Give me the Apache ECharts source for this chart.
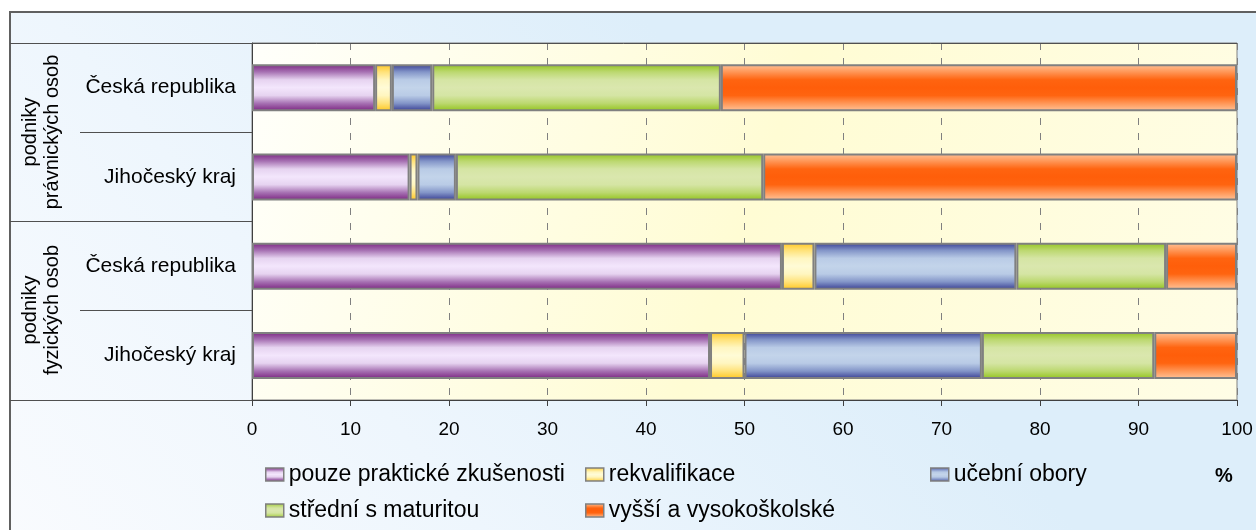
<!DOCTYPE html>
<html><head><meta charset="utf-8">
<script src="https://cdn.jsdelivr.net/npm/echarts@6/dist/echarts.min.js"></script>
<style>html,body{margin:0;padding:0;background:#fff}#c{width:1256px;height:530px}</style>
</head><body><div id="c"></div>
<script>
// ---- data ----
const categories = ['Česká republika', 'Jihočeský kraj', 'Česká republika', 'Jihočeský kraj'];
const groupLabels = ['podniky\nprávnických osob', 'podniky\nfyzických osob'];
const seriesNames = ['pouze praktické zkušenosti', 'rekvalifikace', 'učební obory', 'střední s maturitou', 'vyšší a vysokoškolské'];
const pouzePrakticke = [12.5, 16.0, 53.8, 46.5];
const rekvalifikace = [1.7, 0.8, 3.3, 3.5];
const ucebniObory = [4.1, 3.9, 20.5, 24.1];
const stredniMaturita = [29.3, 31.2, 15.2, 17.5];
const vyssiVysoko = [52.4, 48.1, 7.2, 8.4];
const unitLabel = '%';

// ---- styles ----
function vgrad(stops) {
  return {type: 'linear', x: 0, y: 0, x2: 0, y2: 1,
    colorStops: stops.map((c, i) => ({offset: i / (stops.length - 1), color: c}))};
}
const fills = [
  vgrad(['#7a2380', '#a772b3', '#e6d3f0', '#f3e6fc', '#e6d3f0', '#a772b3', '#7a2380']),
  vgrad(['#ffc61e', '#ffe27a', '#fff6c0', '#fffbd6', '#fff6c0', '#ffe27a', '#ffc61e']),
  vgrad(['#363c92', '#8395c8', '#b9cbe6', '#c3d4ea', '#b9cbe6', '#8395c8', '#363c92']),
  vgrad(['#92c41c', '#bcd870', '#d5e5a4', '#dae7ae', '#d5e5a4', '#bcd870', '#92c41c']),
  vgrad(['#ffc49a', '#ff9656', '#ff6410', '#ff5e0a', '#ff6410', '#ff9656', '#ffc49a'])
];
const values = [pouzePrakticke, rekvalifikace, ucebniObory, stredniMaturita, vyssiVysoko];
const FONT = '"Liberation Sans", Arial, sans-serif';

const series = seriesNames.map((name, i) => ({
  name, type: 'bar', stack: 'all', data: values[i], barWidth: 47,
  itemStyle: {color: fills[i], borderColor: '#808080', borderWidth: 2},
  emphasis: {disabled: true}
}));

const legendPos = [[265, 463], [585, 463], [930, 463], [265, 499], [585, 499]];
const legends = seriesNames.map((n, i) => ({
  data: [n], left: legendPos[i][0], top: legendPos[i][1], padding: 0,
  icon: 'rect', itemWidth: 18, itemHeight: 13,
  itemStyle: {borderColor: '#808080', borderWidth: 1.5},
  textStyle: {fontFamily: FONT, fontSize: 23, color: '#000'},
  selectedMode: false
}));

const chart = echarts.init(document.getElementById('c'));
chart.setOption({
  animation: false,
  backgroundColor: '#ffffff',
  grid: {left: 252, right: 19, top: 43, bottom: 130, show: true,
    borderWidth: 1, borderColor: '#808080',
    backgroundColor: {type: 'linear', x: 0, y: 0, x2: 1, y2: 1,
      colorStops: [{offset: 0, color: '#fffffb'}, {offset: 0.5, color: '#fffcd4'}, {offset: 1, color: '#fffde6'}]}},
  xAxis: {type: 'value', min: 0, max: 100, interval: 10,
    axisLine: {show: true, lineStyle: {color: '#404040', width: 1}},
    axisTick: {show: true, length: 6, lineStyle: {color: '#404040'}},
    axisLabel: {fontFamily: FONT, fontSize: 19, color: '#000', margin: 20},
    splitLine: {show: true, lineStyle: {color: '#808080', type: [7, 8], width: 1}}},
  yAxis: {type: 'category', data: categories, inverse: true,
    axisLine: {show: true, lineStyle: {color: '#404040', width: 1}},
    axisTick: {show: false},
    axisLabel: {fontFamily: FONT, fontSize: 21, color: '#000', margin: 16}},
  legend: legends,
  series,
  graphic: [
    {type: 'rect', z: -100, silent: true, shape: {x: 10, y: 12, width: 1256, height: 530},
      style: {fill: {type: 'linear', x: 0, y: 1, x2: 0.5, y2: 0,
        colorStops: [{offset: 0, color: '#f9fbfe'}, {offset: 0.45, color: '#eef6fd'}, {offset: 1, color: '#ddeefa'}]},
        stroke: '#606060', lineWidth: 2}},
    {type: 'line', z: 50, silent: true, shape: {x1: 10, y1: 43.5, x2: 1237, y2: 43.5}, style: {stroke: '#505050', lineWidth: 1}},
    {type: 'line', z: 50, silent: true, shape: {x1: 10, y1: 400.5, x2: 252, y2: 400.5}, style: {stroke: '#505050', lineWidth: 1}},
    {type: 'line', z: 50, silent: true, shape: {x1: 10, y1: 221.5, x2: 252, y2: 221.5}, style: {stroke: '#505050', lineWidth: 1}},
    {type: 'line', z: 50, silent: true, shape: {x1: 80, y1: 132.5, x2: 252, y2: 132.5}, style: {stroke: '#505050', lineWidth: 1}},
    {type: 'line', z: 50, silent: true, shape: {x1: 80, y1: 310.5, x2: 252, y2: 310.5}, style: {stroke: '#505050', lineWidth: 1}},
    {type: 'text', z: 50, silent: true, x: 41, y: 132, rotation: Math.PI / 2,
      style: {text: groupLabels[0], font: '20px ' + FONT, fill: '#000', align: 'center', verticalAlign: 'middle',
        textAlign: 'center', textVerticalAlign: 'middle', lineHeight: 22}},
    {type: 'text', z: 50, silent: true, x: 41, y: 310, rotation: Math.PI / 2,
      style: {text: groupLabels[1], font: '20px ' + FONT, fill: '#000', align: 'center', verticalAlign: 'middle',
        textAlign: 'center', textVerticalAlign: 'middle', lineHeight: 22}},
    {type: 'text', z: 50, silent: true, x: 1224, y: 476,
      style: {text: unitLabel, font: 'bold 20px ' + FONT, fill: '#000', align: 'center', verticalAlign: 'middle',
        textAlign: 'center', textVerticalAlign: 'middle'}}
  ]
});
</script></body></html>
